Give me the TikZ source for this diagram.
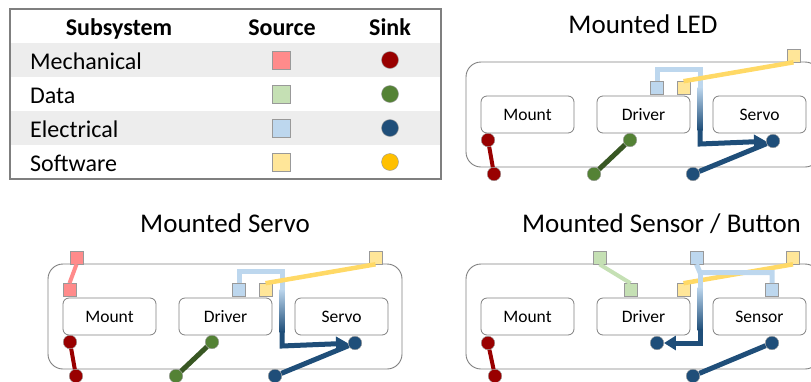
\documentclass[tikz,border=0pt]{standalone}
\usepackage{fontspec}
\setmainfont{Carlito}
\usepackage{xcolor}
\usepackage{tikz}
\usetikzlibrary{arrows.meta}
\usetikzlibrary{positioning}

\definecolor{mechsrc}{HTML}{FF8B8B}
\definecolor{mechsnk}{HTML}{990000}
\definecolor{datasrc}{HTML}{C5E0B4}
\definecolor{datasnk}{HTML}{548235}
\definecolor{dataln}{HTML}{385723}
\definecolor{elecsrc}{HTML}{BDD7EE}
\definecolor{elecsnk}{HTML}{1F4E79}
\definecolor{softsrc}{HTML}{FFE699}
\definecolor{softln}{HTML}{FFD966}
\definecolor{softsnk}{HTML}{FFC000}
\definecolor{rowgray}{HTML}{EDEDED}
\definecolor{rimgray}{HTML}{7F7F7F}

\begin{document}
\begin{tikzpicture}[x=1pt, y=-1pt, on grid, node distance=116pt,
    >={Triangle[length=12pt,width=14pt]},
    src/.style={draw=gray!80, line width=0.6pt, minimum size=13pt, inner sep=0pt},
    snk/.style={circle, draw=gray!80, line width=0.4pt, minimum size=13.5pt, inner sep=0pt},
    unit/.style={draw=rimgray, line width=0.8pt, rounded corners=6pt,
      minimum width=93pt, minimum height=37pt, font=\fontsize{17.5}{20}\selectfont},
    panel/.style={draw=rimgray, line width=0.9pt, rounded corners=15pt,
      minimum width=354pt, minimum height=105pt},
    title/.style={anchor=base, font=\fontsize{27}{32}\selectfont},
    lbl/.style={anchor=base west, inner sep=0pt, font=\fontsize{24}{28}\selectfont},
    head/.style={anchor=base, font=\fontsize{24}{28}\selectfont\bfseries},
    wire/.style={line width=5pt},
  ]
  \clip (0,0) rectangle (811,381);

  % legend table
  \fill[rowgray] (10,43) rectangle (441,77);
  \fill[rowgray] (10,111) rectangle (441,145);
  \node[head] (h_sub) at (119,35) {Subsystem};
  \node[head] (h_src) at (282,35) {Source};
  \node[head] (h_snk) at (390,35) {Sink};
  \foreach \name/\txt/\y in {mech/Mechanical/60, data/Data/94, elec/Electrical/128, soft/Software/162} {
    \node[lbl] (t_\name) at (30,\y+9) {\txt};
    \node[src, fill=\name src, minimum size=18pt] (s_\name) at (281,\y) {};
    \node[snk, fill=\name snk, minimum size=17pt] (k_\name) at (390,\y) {};
  }
  \draw[rimgray, line width=1.2pt] (10,9) rectangle (441,179);

  % Mounted LED
  \begin{scope}
    \node[title] (led_title) at (643,33) {Mounted LED};
    \node[panel] (led_box) at (643,114.5) {};
    \node[unit] (led_mount) at (527.5,114.5) {Mount};
    \node[unit] (led_drv) [right=of led_mount] {Driver};
    \node[unit] (led_srv) [right=of led_drv] {Servo};
    \node[src, fill=elecsrc] (led_e1) at (657,88) {};
    \node[src, fill=softsrc] (led_s1) at (683.5,88) {};
    \node[src, fill=softsrc] (led_s2) at (793.5,55.5) {};
    \node[snk, fill=mechsnk] (led_m1) at (488,140) {};
    \node[snk, fill=mechsnk] (led_m2) at (494,174) {};
    \node[snk, fill=datasnk] (led_d1) at (630,140) {};
    \node[snk, fill=datasnk] (led_d2) at (594,174) {};
    \node[snk, fill=elecsnk] (led_e2) at (773,141) {};
    \node[snk, fill=elecsnk] (led_e3) at (693,174) {};
    \coordinate (led_top) at (700,69);
    \coordinate (led_low) at (700,144);
    \draw[wire, mechsnk, line width=4pt] (led_m1) -- (led_m2);
    \draw[wire, dataln] (led_d1) -- (led_d2);
    \draw[wire, elecsnk] (led_e2) -- (led_e3);
    \draw[wire, elecsrc] (led_e1.north) |- (led_top) -- (700,88);
    \shade[top color=elecsrc, bottom color=elecsnk] (697.5,87) rectangle (702.5,130);
    \draw[wire, elecsnk, ->] (700,129) -- (led_low) -- (led_e2);
    \draw[wire, softln, line width=4.5pt] (led_s1.north) -- (led_s2.south);
  \end{scope}

  % Mounted Servo
  \begin{scope}[shift={(-418,202)}]
    \node[title] (srv_title) at (643,30) {Mounted Servo};
    \node[panel] (srv_box) at (643,114.5) {};
    \node[unit] (srv_mount) at (527.5,114.5) {Mount};
    \node[unit] (srv_drv) [right=of srv_mount] {Driver};
    \node[unit] (srv_srv) [right=of srv_drv] {Servo};
    \node[src, fill=mechsrc] (srv_p1) at (494.5,55.5) {};
    \node[src, fill=mechsrc] (srv_p2) at (487.5,88) {};
    \node[src, fill=elecsrc] (srv_e1) at (657,88) {};
    \node[src, fill=softsrc] (srv_s1) at (683.5,88) {};
    \node[src, fill=softsrc] (srv_s2) at (793.5,55.5) {};
    \node[snk, fill=mechsnk] (srv_m1) at (488,140) {};
    \node[snk, fill=mechsnk] (srv_m2) at (494,174) {};
    \node[snk, fill=datasnk] (srv_d1) at (630,140) {};
    \node[snk, fill=datasnk] (srv_d2) at (594,174) {};
    \node[snk, fill=elecsnk] (srv_e2) at (773,141) {};
    \node[snk, fill=elecsnk] (srv_e3) at (693,174) {};
    \coordinate (srv_top) at (700,69);
    \coordinate (srv_low) at (700,144);
    \draw[wire, mechsrc, line width=4pt] (srv_p1.south) -- (srv_p2.north);
    \draw[wire, mechsnk, line width=4pt] (srv_m1) -- (srv_m2);
    \draw[wire, dataln] (srv_d1) -- (srv_d2);
    \draw[wire, elecsnk] (srv_e2) -- (srv_e3);
    \draw[wire, elecsrc] (srv_e1.north) |- (srv_top) -- (700,88);
    \shade[top color=elecsrc, bottom color=elecsnk] (697.5,87) rectangle (702.5,130);
    \draw[wire, elecsnk, ->] (700,129) -- (srv_low) -- (srv_e2);
    \draw[wire, softln, line width=4.5pt] (srv_s1.north) -- (srv_s2.south);
  \end{scope}

  % Mounted Sensor / Button
  \begin{scope}[shift={(0,202)}]
    \node[title] (sns_title) at (661.5,30) {Mounted Sensor / Button};
    \node[panel] (sns_box) at (643,114.5) {};
    \node[unit] (sns_mount) at (527.5,114.5) {Mount};
    \node[unit] (sns_drv) [right=of sns_mount] {Driver};
    \node[unit] (sns_sen) [right=of sns_drv] {Sensor};
    \node[src, fill=datasrc] (sns_g1) at (599.5,55.5) {};
    \node[src, fill=datasrc] (sns_g2) at (630.5,88) {};
    \node[src, fill=softsrc] (sns_s1) at (683.5,88) {};
    \node[src, fill=softsrc] (sns_s2) at (793,55.5) {};
    \node[src, fill=elecsrc] (sns_e1) at (696.5,55.5) {};
    \node[src, fill=elecsrc] (sns_e2) at (772,88) {};
    \node[snk, fill=mechsnk] (sns_m1) at (488,141) {};
    \node[snk, fill=mechsnk] (sns_m2) at (495,174) {};
    \node[snk, fill=elecsnk] (sns_k1) at (657,141) {};
    \node[snk, fill=elecsnk] (sns_k2) at (772,141) {};
    \node[snk, fill=elecsnk] (sns_k3) at (693,174) {};
    \coordinate (sns_fork) at (700,70.5);
    \coordinate (sns_low) at (700,141);
    \draw[wire, mechsnk, line width=4pt] (sns_m1) -- (sns_m2);
    \draw[wire, datasrc, line width=4pt] (sns_g1.south) -- (sns_g2.north);
    \draw[wire, softln, line width=4.5pt] (sns_s1.north) -- (sns_s2.south);
    \draw[wire, elecsnk] (sns_k2) -- (sns_k3);
    \draw[wire, elecsrc] (sns_e1.south) -- (sns_fork) -| (sns_e2.north);
    \draw[wire, elecsrc] (sns_fork) -- (700,86);
    \shade[top color=elecsrc, bottom color=elecsnk] (697.5,85) rectangle (702.5,128);
    \draw[wire, elecsnk, ->] (700,127) -- (sns_low) -- (sns_k1);
  \end{scope}
\end{tikzpicture}
\end{document}
